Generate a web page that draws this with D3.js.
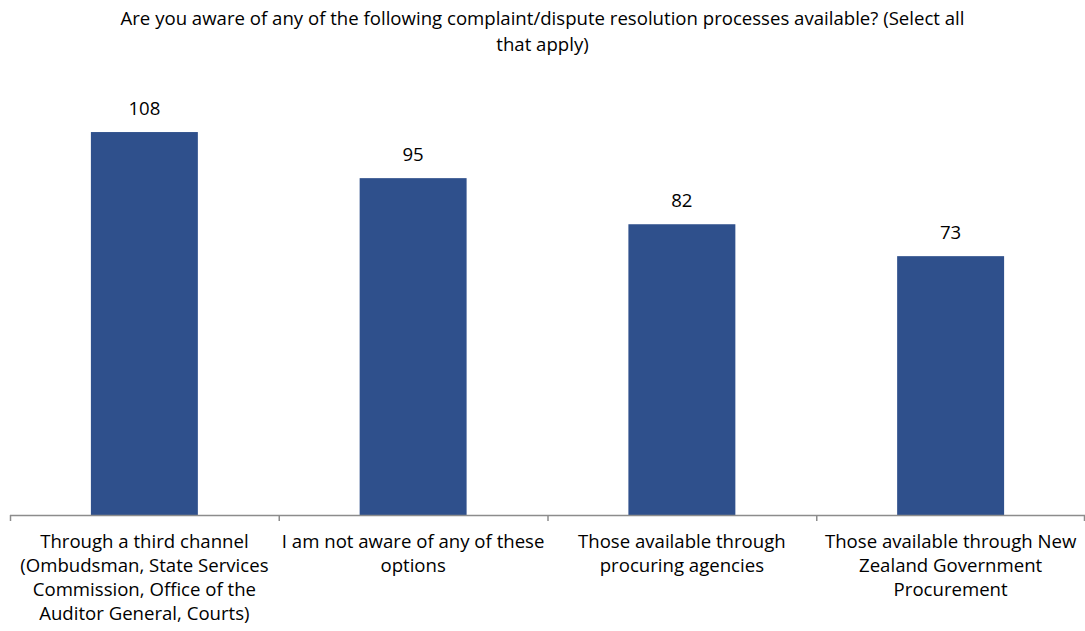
<!DOCTYPE html>
<html>
<head>
<meta charset="utf-8">
<script src="https://cdn.jsdelivr.net/npm/d3@7"></script>
<style>
  html, body { margin: 0; padding: 0; background: #fff; }
  svg text { font-family: "Open Sans", Lato, sans-serif; fill: #000; }
</style>
</head>
<body>
<svg id="chart" width="1085" height="631"></svg>
<script>
// Survey question and answers
const titleLines = [
  "Are you aware of any of the following complaint/dispute resolution processes available? (Select all",
  "that apply)"
];
const categories = [
  ["Through a third channel", "(Ombudsman, State Services", "Commission, Office of the", "Auditor General, Courts)"],
  ["I am not aware of any of these", "options"],
  ["Those available through", "procuring agencies"],
  ["Those available through New", "Zealand Government", "Procurement"]
];
const values = [108, 95, 82, 73];

const svg = d3.select("#chart");
const W = 1085;
const baseY = 515;
const fontSize = 18.6;

const x = d3.scaleBand()
  .domain(d3.range(categories.length))
  .range([10, 1085])
  .paddingInner(0.602)
  .paddingOuter(0.301);

const y = d3.scaleLinear().domain([0, 120]).range([baseY, 89.5]);

// Title
svg.append("text")
  .attr("text-anchor", "middle")
  .attr("font-size", fontSize)
  .selectAll("tspan")
  .data(titleLines)
  .join("tspan")
  .attr("x", W / 2)
  .attr("y", (d, i) => 25 + i * 25.5)
  .text(d => d);

// Bars
svg.append("g")
  .selectAll("rect")
  .data(values)
  .join("rect")
  .attr("x", (d, i) => x(i))
  .attr("y", d => y(d))
  .attr("width", x.bandwidth())
  .attr("height", d => baseY - y(d))
  .attr("fill", "#2f508c");

// Value labels
svg.append("g")
  .selectAll("text")
  .data(values)
  .join("text")
  .attr("x", (d, i) => x(i) + x.bandwidth() / 2)
  .attr("y", d => y(d) - 17)
  .attr("text-anchor", "middle")
  .attr("font-size", fontSize)
  .text(d => d);

// Category axis with ticks on category boundaries
const step = x.step();
const boundaries = d3.range(categories.length + 1).map(i => 10 + i * step);
const axis = svg.append("g");
axis.append("line")
  .attr("x1", 10).attr("x2", 1085)
  .attr("y1", baseY + 0.5).attr("y2", baseY + 0.5)
  .attr("stroke", "#8c8c8c").attr("stroke-width", 1.5);
axis.selectAll("line.tick")
  .data(boundaries)
  .join("line")
  .attr("class", "tick")
  .attr("x1", d => Math.min(d, 1084) + 0.5).attr("x2", d => Math.min(d, 1084) + 0.5)
  .attr("y1", baseY).attr("y2", baseY + 6)
  .attr("stroke", "#8c8c8c").attr("stroke-width", 1.5);

// Category labels
axis.selectAll("text.cat")
  .data(categories)
  .join("text")
  .attr("class", "cat")
  .attr("text-anchor", "middle")
  .attr("font-size", fontSize)
  .each(function (lines, i) {
    d3.select(this).selectAll("tspan")
      .data(lines)
      .join("tspan")
      .attr("x", x(i) + x.bandwidth() / 2)
      .attr("y", (d, j) => 547.5 + j * 24)
      .text(d => d);
  });
</script>
</body>
</html>
